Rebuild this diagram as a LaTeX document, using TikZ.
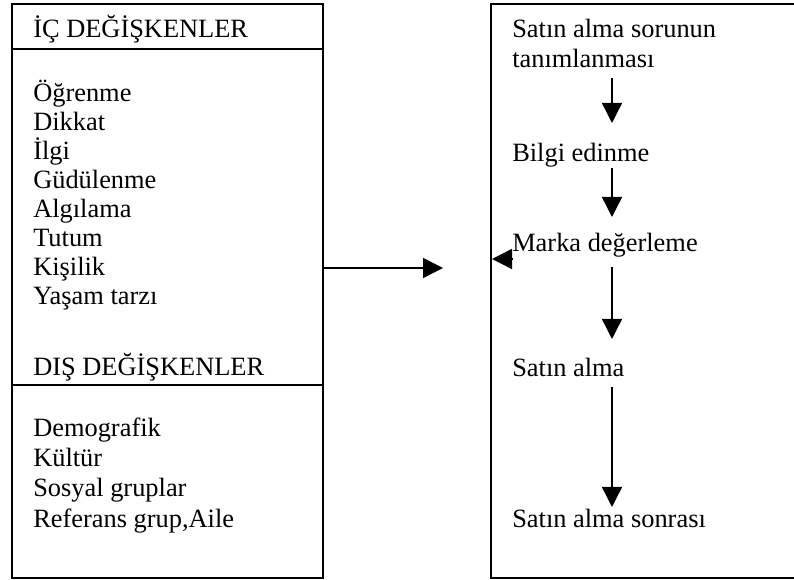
\documentclass[tikz,border=0pt]{standalone}
\usepackage{fontspec}
\setmainfont{Liberation Serif}
\usetikzlibrary{arrows.meta}
\begin{document}
\begin{tikzpicture}[x=0.75pt,y=-0.75pt,
  txt/.style={anchor=base west,inner sep=0pt,font=\fontsize{19.8}{23}\selectfont},
  boxline/.style={draw,line width=1.1pt},
  arr/.style={line width=1.1pt,-{Triangle[length=15pt,width=15pt]}}]
\useasboundingbox (0,0) rectangle (794,580);
% left box
\draw[boxline] (12,4) rectangle (323,578);
\draw[boxline] (12,49) -- (323,49);
\draw[boxline] (12,385) -- (323,385);
% right box
\draw[boxline] (491,4) rectangle (797,578);
% left texts
\node[txt] (ic) at (33,38) {İÇ DEĞİŞKENLER};
\node[txt] (l1) at (33,102) {Öğrenme};
\node[txt] (l2) at (33,131) {Dikkat};
\node[txt] (l3) at (33,160) {İlgi};
\node[txt] (l4) at (33,189) {Güdülenme};
\node[txt] (l5) at (33,218) {Algılama};
\node[txt] (l6) at (33,247) {Tutum};
\node[txt] (l7) at (33,276) {Kişilik};
\node[txt] (l8) at (33,305) {Yaşam tarzı};
\node[txt] (dis) at (33,376) {DIŞ DEĞİŞKENLER};
\node[txt] (d1) at (33,437) {Demografik};
\node[txt] (d2) at (33,467) {Kültür};
\node[txt] (d3) at (33,497) {Sosyal gruplar};
\node[txt] (d4) at (33,528) {Referans grup,Aile};
% right texts
\node[txt] (r1) at (512,38) {Satın alma sorunun};
\node[txt] (r1b) at (512,68) {tanımlanması};
\node[txt] (r2) at (512,162) {Bilgi edinme};
\node[txt] (r3) at (512,252) {Marka değerleme};
\node[txt] (r4) at (512,377) {Satın alma};
\node[txt] (r5) at (512,528) {Satın alma sonrası};
% connector coordinates
\coordinate (hs) at (323,268);
\coordinate (he) at (443,268);
\coordinate (ms) at (513,259);
\coordinate (me) at (492,259);
\coordinate (a1s) at (612,78);  \coordinate (a1e) at (612,123);
\coordinate (a2s) at (612,168); \coordinate (a2e) at (612,217);
\coordinate (a3s) at (612,267); \coordinate (a3e) at (612,339);
\coordinate (a4s) at (612,387); \coordinate (a4e) at (612,507);
\draw[arr] (hs) -- (he);
\draw[arr] (ms) -- (me);
\draw[arr] (a1s) -- (a1e);
\draw[arr] (a2s) -- (a2e);
\draw[arr] (a3s) -- (a3e);
\draw[arr] (a4s) -- (a4e);
\end{tikzpicture}
\end{document}
